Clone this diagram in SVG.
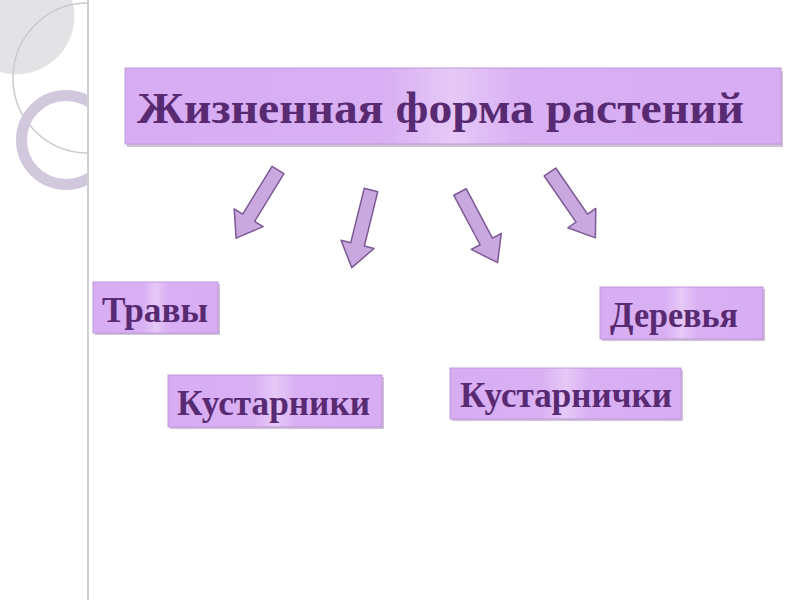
<svg xmlns="http://www.w3.org/2000/svg" width="800" height="600" viewBox="0 0 800 600">
<defs>
<style>
.box{fill:url(#boxg);stroke:#bf98d8;stroke-width:1}
.shadow{fill:#a890b4;opacity:0.55}
.lbl{font-family:"Liberation Serif","Times New Roman",serif;font-weight:bold;font-style:normal;fill:#582a72}
.arrow{fill:#c9a7df;stroke:#7d5a94;stroke-width:1.5;stroke-linejoin:round}
</style>
<linearGradient id="boxg" x1="0" y1="0" x2="1" y2="0">
<stop offset="0" stop-color="#d7acf3"/>
<stop offset="0.4" stop-color="#d9b0f4"/>
<stop offset="0.5" stop-color="#e6c9f7"/>
<stop offset="0.6" stop-color="#d9b0f4"/>
<stop offset="1" stop-color="#d7acf3"/>
</linearGradient>
<clipPath id="leftclip"><rect x="0" y="0" width="88" height="600"/></clipPath>
<path id="arr" d="M-7,0 L7,0 L7,56 L17,56 L0,80 L-17,56 L-7,56 Z"/>
</defs>
<rect width="800" height="600" fill="#ffffff"/>
<g id="decor" clip-path="url(#leftclip)">
<path d="M0,0 H72 A58,58 0 0 1 0,72 Z" fill="#e3e3e6"/>
<circle cx="88" cy="78" r="75" fill="none" stroke="#c9c9d1" stroke-width="1.5"/>
<circle cx="66" cy="140" r="44.5" fill="none" stroke="#d2c8de" stroke-width="11"/>
</g>
<line x1="88" y1="0" x2="88" y2="600" stroke="#cfcfd4" stroke-width="2"/>
<g id="title">
<rect class="shadow" x="127" y="71" width="656" height="76"/>
<rect class="box" x="125" y="68" width="656" height="76"/>
<text class="lbl" x="137" y="123" font-size="44" textLength="607" lengthAdjust="spacingAndGlyphs">Жизненная форма растений</text>
</g>
<g id="connectors">
<use href="#arr" class="arrow" transform="translate(278,170) rotate(31.6)"/>
<use href="#arr" class="arrow" transform="translate(371,190) rotate(13.9)"/>
<use href="#arr" class="arrow" transform="translate(460,192) rotate(-28)"/>
<use href="#arr" class="arrow" transform="translate(550,172) rotate(-34.6)"/>
</g>
<g id="travy">
<rect class="shadow" x="95" y="284" width="125" height="51"/>
<rect class="box" x="93" y="282" width="125" height="51"/>
<text class="lbl" x="102" y="322" font-size="36" textLength="106" lengthAdjust="spacingAndGlyphs">Травы</text>
</g>
<g id="kustarniki">
<rect class="shadow" x="170" y="377" width="214" height="52"/>
<rect class="box" x="168" y="375" width="214" height="52"/>
<text class="lbl" x="177" y="415" font-size="36" textLength="193" lengthAdjust="spacingAndGlyphs">Кустарники</text>
</g>
<g id="derevya">
<rect class="shadow" x="602" y="289" width="163" height="52"/>
<rect class="box" x="600" y="287" width="163" height="52"/>
<text class="lbl" x="610" y="327" font-size="36" textLength="128" lengthAdjust="spacingAndGlyphs">Деревья</text>
</g>
<g id="kustarnichki">
<rect class="shadow" x="452" y="370" width="231" height="51"/>
<rect class="box" x="450" y="368" width="231" height="51"/>
<text class="lbl" x="460" y="407" font-size="36" textLength="212" lengthAdjust="spacingAndGlyphs">Кустарнички</text>
</g>
</svg>
